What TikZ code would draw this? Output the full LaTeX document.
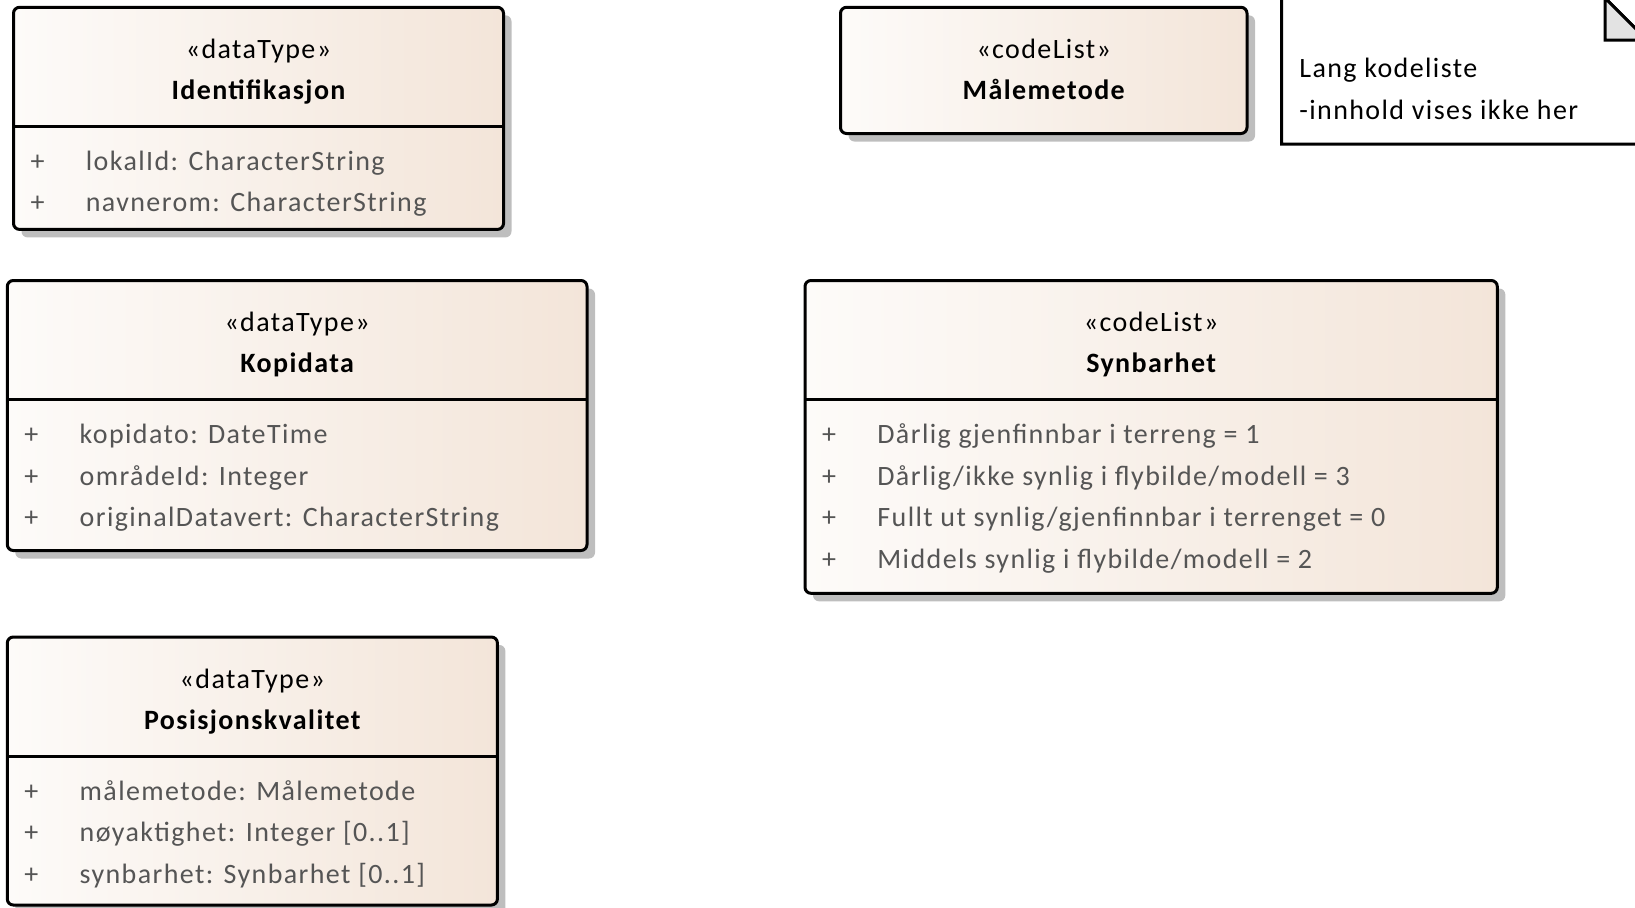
\documentclass[tikz,border=0pt]{standalone}
\usepackage{fontspec}
\setmainfont{Carlito}[LetterSpace=5]
\definecolor{boxleft}{HTML}{FDFBF9}
\definecolor{boxright}{HTML}{F3E5D9}
\definecolor{shadowgrey}{HTML}{BEBEBE}
\definecolor{attrgrey}{HTML}{555555}
\definecolor{foldgrey}{HTML}{E3E3E3}
\begin{document}
\begin{tikzpicture}[x=0.5pt,y=-0.5pt,
    classbox/.style={draw=black,line width=1.5pt,rounded corners=3pt,left color=boxleft,right color=boxright},
    boxshadow/.style={fill=shadowgrey,rounded corners=3pt},
    stereo/.style={anchor=base,inner sep=0pt,font=\fontsize{14}{17}\selectfont},
    cname/.style={anchor=base,inner sep=0pt,font=\fontsize{14}{17}\selectfont\bfseries},
    vis/.style={anchor=base,inner sep=0pt,text=attrgrey,font=\fontsize{14}{17}\selectfont},
    attr/.style={anchor=base west,inner sep=0pt,text=attrgrey,font=\fontsize{14}{17}\selectfont},
    notetext/.style={anchor=base west,inner sep=0pt,font=\fontsize{14}{17}\selectfont}]
  \useasboundingbox (0,0) rectangle (1635,907);
  \clip (0,0) rectangle (1635,907);

  % Identifikasjon
  \fill[boxshadow] (21.5,15.3) rectangle (511.5,237.4);
  \draw[classbox] (13.5,7.3) rectangle (503.5,229.4);
  \draw[line width=1.5pt] (13.5,126.3) -- (503.5,126.3);
  \node[stereo] (identStereo) at (258.5,58.3) {«dataType»};
  \node[cname] (identName) at (258.5,99.3) {Identifikasjon};
  \node[vis] (identVisA) at (37.5,170.3) {+};
  \node[attr] (identAttrA) at (85.5,170.3) {lokalId: CharacterString};
  \node[vis] (identVisB) at (37.5,211.8) {+};
  \node[attr] (identAttrB) at (85.5,211.8) {navnerom: CharacterString};

  % Målemetode
  \fill[boxshadow] (848.5,15.3) rectangle (1255,141.5);
  \draw[classbox] (840.5,7.3) rectangle (1247,133.5);
  \node[stereo] (maleStereo) at (1043.75,58.3) {«codeList»};
  \node[cname] (maleName) at (1043.75,99.3) {Målemetode};

  % note
  \draw[line width=1.5pt,fill=white] (1281.5,-2) -- (1605,-2) -- (1647,40) -- (1647,144) -- (1281.5,144) -- cycle;
  \draw[line width=1.5pt,fill=foldgrey] (1605,-2) -- (1605,40) -- (1647,40) -- cycle;
  \node[notetext] (noteA) at (1299,77) {Lang kodeliste};
  \node[notetext] (noteB) at (1299,119) {-innhold vises ikke her};

  % Kopidata
  \fill[boxshadow] (15.3,288.5) rectangle (595,558.5);
  \draw[classbox] (7.3,280.5) rectangle (587,550.5);
  \draw[line width=1.5pt] (7.3,399.5) -- (587,399.5);
  \node[stereo] (kopiStereo) at (297.15,331.5) {«dataType»};
  \node[cname] (kopiName) at (297.15,372.5) {Kopidata};
  \node[vis] (kopiVisA) at (31.3,443.5) {+};
  \node[attr] (kopiAttrA) at (79.3,443.5) {kopidato: DateTime};
  \node[vis] (kopiVisB) at (31.3,485) {+};
  \node[attr] (kopiAttrB) at (79.3,485) {områdeId: Integer};
  \node[vis] (kopiVisC) at (31.3,526.5) {+};
  \node[attr] (kopiAttrC) at (79.3,526.5) {originalDatavert: CharacterString};

  % Synbarhet
  \fill[boxshadow] (813,288.5) rectangle (1505.3,601.3);
  \draw[classbox] (805,280.5) rectangle (1497.3,593.3);
  \draw[line width=1.5pt] (805,399.5) -- (1497.3,399.5);
  \node[stereo] (synStereo) at (1151.15,331.5) {«codeList»};
  \node[cname] (synName) at (1151.15,372.5) {Synbarhet};
  \node[vis] (synVisA) at (829,443.5) {+};
  \node[attr] (synAttrA) at (877,443.5) {Dårlig gjenfinnbar i terreng = 1};
  \node[vis] (synVisB) at (829,485) {+};
  \node[attr] (synAttrB) at (877,485) {Dårlig/ikke synlig i flybilde/modell = 3};
  \node[vis] (synVisC) at (829,526.5) {+};
  \node[attr] (synAttrC) at (877,526.5) {Fullt ut synlig/gjenfinnbar i terrenget = 0};
  \node[vis] (synVisD) at (829,568) {+};
  \node[attr] (synAttrD) at (877,568) {Middels synlig i flybilde/modell = 2};

  % Posisjonskvalitet
  \fill[boxshadow] (15.3,645) rectangle (505.4,913);
  \draw[classbox] (7.3,637) rectangle (497.4,905);
  \draw[line width=1.5pt] (7.3,756) -- (497.4,756);
  \node[stereo] (posStereo) at (252.35,688) {«dataType»};
  \node[cname] (posName) at (252.35,729) {Posisjonskvalitet};
  \node[vis] (posVisA) at (31.3,800) {+};
  \node[attr] (posAttrA) at (79.3,800) {målemetode: Målemetode};
  \node[vis] (posVisB) at (31.3,841.5) {+};
  \node[attr] (posAttrB) at (79.3,841.5) {nøyaktighet: Integer [0..1]};
  \node[vis] (posVisC) at (31.3,883) {+};
  \node[attr] (posAttrC) at (79.3,883) {synbarhet: Synbarhet [0..1]};
\end{tikzpicture}
\end{document}
